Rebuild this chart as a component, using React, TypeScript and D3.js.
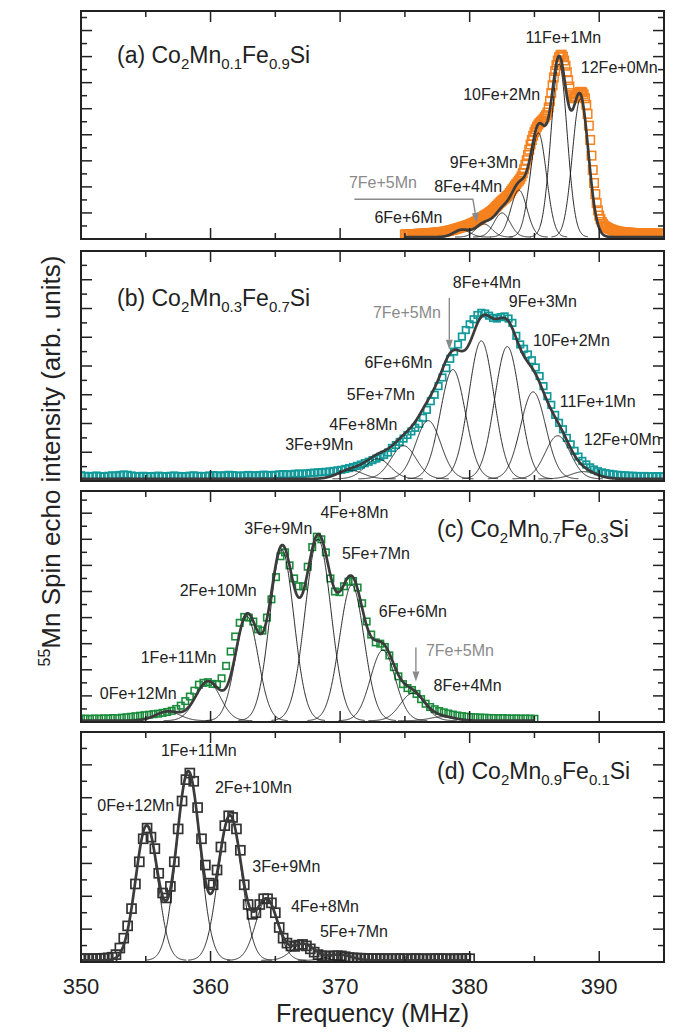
import React from "react";
import * as d3 from "d3";

// ---- data -------------------------------------------------------------
// (a) Co2Mn0.1Fe0.9Si : spin echo, 375..395 MHz every 0.1 MHz
const aStart = 375;
const aStep = 0.1;
const aEcho = [
  0.35, 0.35, 0.36, 0.36, 0.37, 0.37, 0.37, 0.38, 0.38, 0.39,
  0.4, 0.4, 0.41, 0.41, 0.42, 0.42, 0.43, 0.43, 0.44, 0.45,
  0.46, 0.47, 0.48, 0.48, 0.49, 0.5, 0.51, 0.52, 0.54, 0.55,
  0.56, 0.57, 0.59, 0.61, 0.64, 0.66, 0.69, 0.71, 0.74, 0.77,
  0.8, 0.83, 0.86, 0.89, 0.92, 0.95, 0.98, 1.01, 1.05, 1.08,
  1.12, 1.16, 1.2, 1.25, 1.3, 1.35, 1.41, 1.47, 1.53, 1.6,
  1.68, 1.75, 1.82, 1.88, 1.94, 2.01, 2.08, 2.16, 2.24, 2.34,
  2.45, 2.55, 2.65, 2.75, 2.85, 2.94, 3.03, 3.11, 3.2, 3.3,
  3.4, 3.54, 3.68, 3.82, 3.96, 4.09, 4.22, 4.35, 4.48, 4.62,
  4.8, 5.05, 5.35, 5.7, 6.05, 6.45, 6.85, 7.25, 7.6, 7.92,
  8.2, 8.42, 8.62, 8.78, 8.9, 9.0, 9.1, 9.22, 9.35, 9.5,
  9.7, 10.1, 10.6, 11.2, 11.8, 12.4, 12.9, 13.35, 13.7, 13.95,
  14.1, 14.15, 14.0, 13.7, 13.3, 12.8, 12.2, 11.7, 11.2, 10.95,
  10.8, 10.85, 10.95, 11.1, 11.2, 11.28, 11.3, 11.25, 11.1, 10.8,
  10.3, 9.6, 8.7, 7.6, 6.4, 5.3, 4.3, 3.45, 2.75, 2.2,
  1.8, 1.52, 1.3, 1.15, 1.02, 0.94, 0.88, 0.83, 0.78, 0.74,
  0.7, 0.67, 0.64, 0.61, 0.59, 0.57, 0.56, 0.54, 0.53, 0.51,
  0.5, 0.5, 0.49, 0.48, 0.48, 0.47, 0.47, 0.46, 0.46, 0.45,
  0.45, 0.45, 0.44, 0.44, 0.44, 0.43, 0.43, 0.43, 0.43, 0.42,
  0.42, 0.42, 0.42, 0.41, 0.41, 0.41, 0.41, 0.4, 0.4, 0.4,
  0.4,
];
const aCenters = [379.4, 381.1, 382.5, 383.8, 385.3, 386.9, 388.55];
const aAmps = [0.55, 1.0, 1.85, 3.6, 8.0, 13.3, 10.6];
const aWidths = [0.62, 0.62, 0.62, 0.62, 0.62, 0.62, 0.62];
const aLabels = ["6Fe+6Mn", "8Fe+4Mn", "9Fe+3Mn", "10Fe+2Mn", "11Fe+1Mn", "12Fe+0Mn"];

// (b) Co2Mn0.3Fe0.7Si : 350..395 MHz every 0.3 MHz
const bStart = 350;
const bStep = 0.3;
const bEcho = [
  0.4, 0.36, 0.33, 0.35, 0.38, 0.34, 0.32, 0.36, 0.39, 0.37,
  0.42, 0.45, 0.43, 0.38, 0.35, 0.33, 0.36, 0.34, 0.32, 0.35,
  0.37, 0.34, 0.33, 0.36, 0.38, 0.35, 0.33, 0.34, 0.37, 0.39,
  0.36, 0.34, 0.35, 0.38, 0.41, 0.39, 0.36, 0.4, 0.43, 0.41,
  0.38, 0.36, 0.39, 0.42, 0.4, 0.38, 0.41, 0.44, 0.42, 0.4,
  0.43, 0.46, 0.48, 0.45, 0.47, 0.5, 0.52, 0.5, 0.53, 0.56,
  0.58, 0.6, 0.62, 0.64, 0.66, 0.7, 0.74, 0.78, 0.84, 0.9,
  0.97, 1.05, 1.14, 1.24, 1.34, 1.45, 1.56, 1.68, 1.82, 1.98,
  2.3, 2.5, 2.72, 2.95, 3.2, 3.45, 3.7, 3.98, 4.4, 4.95,
  5.55, 6.0, 6.6, 7.2, 7.85, 8.5, 9.0, 9.5, 10.05, 10.5,
  10.9, 11.25, 11.55, 11.7, 11.65, 11.5, 11.35, 11.3, 11.4, 11.45,
  11.3, 11.0, 10.1, 9.5, 9.2, 8.8, 8.4, 7.9, 7.3, 6.6,
  5.9, 5.3, 4.6, 4.05, 3.6, 3.0, 2.55, 2.1, 1.7, 1.4,
  1.15, 0.95, 0.8, 0.68, 0.6, 0.54, 0.5, 0.46, 0.43, 0.41,
  0.39, 0.37, 0.36, 0.35, 0.34, 0.35, 0.33, 0.32, 0.34, 0.33, 0.32,
];
const bCenters = [370.8, 372.9, 374.9, 376.8, 378.7, 380.9, 382.9, 384.9, 386.8, 388.8];
const bAmps = [0.6, 1.4, 2.3, 4.05, 7.6, 9.6, 9.2, 6.05, 3.0, 0.5];
const bWidths = [0.97, 0.97, 0.97, 0.97, 0.97, 0.97, 0.97, 0.97, 0.97, 0.97];
const bLabels = ["8Fe+4Mn", "9Fe+3Mn", "10Fe+2Mn", "6Fe+6Mn", "5Fe+7Mn", "11Fe+1Mn", "4Fe+8Mn", "3Fe+9Mn", "12Fe+0Mn"];

// (c) Co2Mn0.7Fe0.3Si : 350..385 MHz every 0.35 MHz
const cStart = 350;
const cStep = 0.35;
const cEcho = [
  0.25, 0.26, 0.24, 0.27, 0.25, 0.28, 0.27, 0.3, 0.29, 0.33,
  0.36, 0.4, 0.44, 0.48, 0.52, 0.56, 0.6, 0.64, 0.7, 0.77,
  0.86, 1.0, 1.25, 1.6, 1.95, 2.4, 2.86, 3.0, 3.05, 2.92,
  2.9, 3.35, 4.3, 5.4, 6.55, 7.6, 8.05, 8.0, 7.7, 7.1,
  7.0, 8.0, 9.4, 11.1, 12.7, 13.0, 12.0, 11.0, 10.4, 10.4,
  11.9, 13.4, 14.2, 14.0, 13.0, 11.0, 10.0, 9.95, 10.4, 10.75,
  10.8, 10.3, 9.1, 7.7, 6.7, 6.1, 6.0, 5.75, 5.1, 4.2,
  3.5, 2.9, 2.6, 2.45, 2.15, 1.75, 1.4, 1.15, 0.98, 0.84,
  0.74, 0.65, 0.57, 0.5, 0.45, 0.41, 0.38, 0.36, 0.34, 0.33,
  0.31, 0.3, 0.29, 0.3, 0.28, 0.27, 0.28, 0.26, 0.27, 0.26,
  0.25,
];
const cCenters = [356.7, 359.8, 362.8, 365.5, 368.3, 370.9, 373.3, 375.6, 377.9];
const cAmps = [0.7, 3.0, 8.0, 13.1, 13.9, 10.4, 5.4, 2.1, 0.3];
const cWidths = [0.95, 0.95, 0.88, 0.93, 1.0, 0.95, 0.95, 0.95, 0.95];
const cLabels = ["4Fe+8Mn", "3Fe+9Mn", "5Fe+7Mn", "2Fe+10Mn", "6Fe+6Mn", "1Fe+11Mn", "8Fe+4Mn", "0Fe+12Mn"];

// (d) Co2Mn0.9Fe0.1Si : 350..380 MHz every 0.3 MHz
const dStart = 350;
const dStep = 0.3;
const dEcho = [
  0.2, 0.2, 0.2, 0.21, 0.21, 0.22, 0.23, 0.25, 0.29, 0.45,
  0.85, 1.45, 2.2, 3.25, 4.75, 6.1, 7.5, 8.15, 7.6, 6.9,
  5.4, 4.2, 3.9, 4.6, 6.1, 8.1, 9.8, 11.1, 11.5, 11.0,
  9.4, 7.5, 5.9, 4.8, 4.7, 5.6, 7.0, 8.3, 8.9, 8.8,
  8.1, 6.8, 4.7, 3.5, 2.9, 3.0, 3.5, 3.85, 3.85, 3.6,
  3.0, 2.1, 1.45, 1.15, 0.98, 0.95, 1.03, 1.07, 0.98, 0.8,
  0.6, 0.45, 0.38, 0.36, 0.36, 0.37, 0.38, 0.37, 0.32, 0.27,
  0.25, 0.24, 0.23, 0.22, 0.22, 0.21, 0.21, 0.21, 0.2, 0.2,
  0.2, 0.2, 0.21, 0.2, 0.19, 0.2, 0.21, 0.2, 0.2, 0.19,
  0.2, 0.2, 0.21, 0.2, 0.2, 0.19, 0.2, 0.2, 0.2, 0.21,
  0.2,
];
const dCenters = [355.07, 358.28, 361.5, 364.33, 367.15, 369.98];
const dAmps = [8.2, 11.5, 8.8, 3.7, 1.0, 0.35];
const dWidths = [0.85, 0.9, 0.9, 0.85, 0.9, 0.9];
const dLabels = ["1Fe+11Mn", "2Fe+10Mn", "0Fe+12Mn", "3Fe+9Mn", "4Fe+8Mn", "5Fe+7Mn"];

const markedLabel = "7Fe+5Mn";
const panelTags = ["a", "b", "c", "d"];
const mnFrac = ["0.1", "0.3", "0.7", "0.9"];
const feFrac = ["0.9", "0.7", "0.3", "0.1"];
const fitBase = [0.15, 0.15, 0.1, 0.1];
const fitFrom = [375, 350, 350, 350];
const fitTo = [395, 395, 385, 380];

const freqTicks = [355, 360, 365, 370, 375, 380, 385, 390];
const freqTickLabels = [350, 360, 370, 380, 390];

// ---- layout -----------------------------------------------------------
const FONT = "'Liberation Sans', Arial, Helvetica, sans-serif";
const plotLeft = 81;
const plotRight = 664;
const panelTop = [11, 251, 491, 732];
const panelBottom = [239, 481, 722, 962];
const panelYMax = [17.5, 16, 17.7, 14];
const titlePos = [[117, 63], [117, 306], [437, 537], [437, 779]];
const markerColor = ["#F5821F", "#12999A", "#1A8C3C", "#333333"];
const markerSize = [8.5, 6.5, 6.5, 9];
const markerStroke = [1.5, 1.7, 1.6, 1.7];

// label anchors in data units [MHz, intensity]
const aLabelAt = [[372.65, 1.23], [377.26, 3.63], [378.47, 5.43], [379.5, 10.67], [384.31, 15.07], [388.58, 12.72]];
const bLabelAt = [[378.7, 13.44], [383.02, 12.11], [384.88, 9.37], [371.88, 7.86], [370.52, 5.65], [386.96, 5.18], [369.17, 3.55], [365.76, 2.16], [388.81, 2.5]];
const cLabelAt = [[368.48, 15.62], [362.6, 14.39], [370.14, 12.49], [357.62, 9.62], [372.99, 8.06], [354.61, 4.54], [377.21, 2.4], [351.45, 1.8]];
const dLabelAt = [[356.17, 12.56], [360.34, 10.27], [351.26, 9.19], [363.22, 5.46], [366.2, 3.06], [368.44, 1.54]];
const markedAt = [[370.68, 3.91], [372.53, 11.35], [376.62, 5.06], null];
const arrowPts = [
  [[371.1, 3.05], [380.25, 3.05], [380.56, 1.25]],
  [[378.43, 12.74], [378.43, 9.13]],
  [[375.85, 5.71], [375.85, 3.1]],
  null,
];

const panels = [
  { start: aStart, step: aStep, echo: aEcho, centers: aCenters, amps: aAmps, widths: aWidths, labels: aLabels, labelAt: aLabelAt },
  { start: bStart, step: bStep, echo: bEcho, centers: bCenters, amps: bAmps, widths: bWidths, labels: bLabels, labelAt: bLabelAt },
  { start: cStart, step: cStep, echo: cEcho, centers: cCenters, amps: cAmps, widths: cWidths, labels: cLabels, labelAt: cLabelAt },
  { start: dStart, step: dStep, echo: dEcho, centers: dCenters, amps: dAmps, widths: dWidths, labels: dLabels, labelAt: dLabelAt },
];

const gauss = (f: number, c: number, a: number, s: number) =>
  a * Math.exp(-((f - c) * (f - c)) / (2 * s * s));

const x = d3.scaleLinear().domain([350, 395]).range([plotLeft, plotRight]);

function Title({ i }: { i: number }) {
  const [tx, ty] = titlePos[i];
  const sub = 15;
  return (
    <text x={tx} y={ty} fontSize={23} fill="#222">
      <tspan>{`(${panelTags[i]}) Co`}</tspan>
      <tspan fontSize={sub} dy={6}>2</tspan>
      <tspan dy={-6}>Mn</tspan>
      <tspan fontSize={sub} dy={6}>{mnFrac[i]}</tspan>
      <tspan dy={-6}>Fe</tspan>
      <tspan fontSize={sub} dy={6}>{feFrac[i]}</tspan>
      <tspan dy={-6}>Si</tspan>
    </text>
  );
}

function Arrow({ pts }: { pts: number[][] }) {
  const n = pts.length;
  const [tx, ty] = pts[n - 1];
  const [fx, fy] = pts[n - 2];
  const ang = Math.atan2(ty - fy, tx - fx);
  const len = 10;
  const half = 3.5;
  const bx = tx - len * Math.cos(ang);
  const by = ty - len * Math.sin(ang);
  const px = -Math.sin(ang) * half;
  const py = Math.cos(ang) * half;
  const shaft = pts.slice(0, n - 1).concat([[bx, by]]);
  return (
    <g>
      <polyline points={shaft.map((p) => p.join(",")).join(" ")} fill="none" stroke="#8a8a8a" strokeWidth={1.4} />
      <polygon points={`${tx},${ty} ${bx + px},${by + py} ${bx - px},${by - py}`} fill="#8a8a8a" />
    </g>
  );
}

function Panel({ i }: { i: number }) {
  const p = panels[i];
  const top = panelTop[i];
  const bottom = panelBottom[i];
  const y = d3.scaleLinear().domain([0, panelYMax[i]]).range([bottom, top]);
  const line = d3
    .line<number[]>()
    .x((d) => x(d[0]))
    .y((d) => y(d[1]));
  const base = fitBase[i];
  const model = (f: number) =>
    base + d3.sum(p.centers, (c, k) => gauss(f, c, p.amps[k], p.widths[k]));
  const fit = d3.range(fitFrom[i], fitTo[i] + 1e-6, 0.02).map((f) => [f, model(f)]);
  const comps = p.centers.map((c, k) => {
    const w = p.widths[k];
    return d3.range(c - 3.6 * w, c + 3.6 * w, 0.02).map((f) => [f, base + gauss(f, c, p.amps[k], w)]);
  });
  const pts = p.echo.map((v, k) => [p.start + k * p.step, v]);
  const yTicks = d3.range(1, Math.ceil(panelYMax[i]));
  const s = markerSize[i];
  const clip = `clip-${i}`;

  const arrow = arrowPts[i];
  const mark = markedAt[i];

  return (
    <g>
      <defs>
        <clipPath id={clip}>
          <rect x={plotLeft} y={top} width={plotRight - plotLeft} height={bottom - top} />
        </clipPath>
      </defs>
      <g clipPath={`url(#${clip})`}>
        {pts.map((d, k) => (
          <rect
            key={k}
            x={x(d[0]) - s / 2}
            y={y(d[1]) - s / 2}
            width={s}
            height={s}
            fill="none"
            stroke={markerColor[i]}
            strokeWidth={markerStroke[i]}
          />
        ))}
        {comps.map((c, k) => (
          <path key={k} d={line(c) || ""} fill="none" stroke="#111" strokeWidth={0.9} />
        ))}
        <path d={line(fit) || ""} fill="none" stroke="#3b3b3b" strokeWidth={2.7} strokeLinejoin="round" />
      </g>

      {/* ticks */}
      {yTicks.map((t) => {
        const len = t % 2 === 0 ? 11 : 6;
        return (
          <g key={t} stroke="#222" strokeWidth={1.5}>
            <line x1={plotLeft} x2={plotLeft + len} y1={y(t)} y2={y(t)} />
            <line x1={plotRight} x2={plotRight - len} y1={y(t)} y2={y(t)} />
          </g>
        );
      })}
      {freqTicks.map((t) => {
        const len = t % 10 === 0 ? 11 : 6;
        return (
          <g key={t} stroke="#222" strokeWidth={1.5}>
            <line x1={x(t)} x2={x(t)} y1={bottom} y2={bottom - len} />
            <line x1={x(t)} x2={x(t)} y1={top} y2={top + len} />
          </g>
        );
      })}
      <rect x={plotLeft} y={top} width={plotRight - plotLeft} height={bottom - top} fill="none" stroke="#222" strokeWidth={2} />

      {/* annotations */}
      {p.labels.map((t, k) => (
        <text key={t} x={x(p.labelAt[k][0])} y={y(p.labelAt[k][1])} fontSize={16} fill="#222">
          {t}
        </text>
      ))}
      {mark && (
        <text x={x(mark[0])} y={y(mark[1])} fontSize={16} fill="#8a8a8a">
          {markedLabel}
        </text>
      )}
      {arrow && <Arrow pts={arrow.map((d) => [x(d[0]), y(d[1])])} />}
      <Title i={i} />
    </g>
  );
}

export default function App() {
  return (
    <svg
      width={673}
      height={1032}
      viewBox="0 0 673 1032"
      style={{ position: "absolute", left: 0, top: 0, background: "#fff" }}
      fontFamily={FONT}
    >
      <rect width={673} height={1032} fill="#fff" />
      {panels.map((_, i) => (
        <Panel key={i} i={i} />
      ))}
      {freqTickLabels.map((t) => (
        <text key={t} x={x(t)} y={994} fontSize={22} textAnchor="middle" fill="#222">
          {t}
        </text>
      ))}
      <text x={(plotLeft + plotRight) / 2} y={1022} fontSize={25} textAnchor="middle" fill="#222">
        Frequency (MHz)
      </text>
      <text transform="translate(60,461) rotate(-90)" fontSize={26} textAnchor="middle" fill="#222">
        <tspan fontSize={16} dy={-10}>55</tspan>
        <tspan dy={10}>Mn Spin echo intensity (arb. units)</tspan>
      </text>
    </svg>
  );
}
